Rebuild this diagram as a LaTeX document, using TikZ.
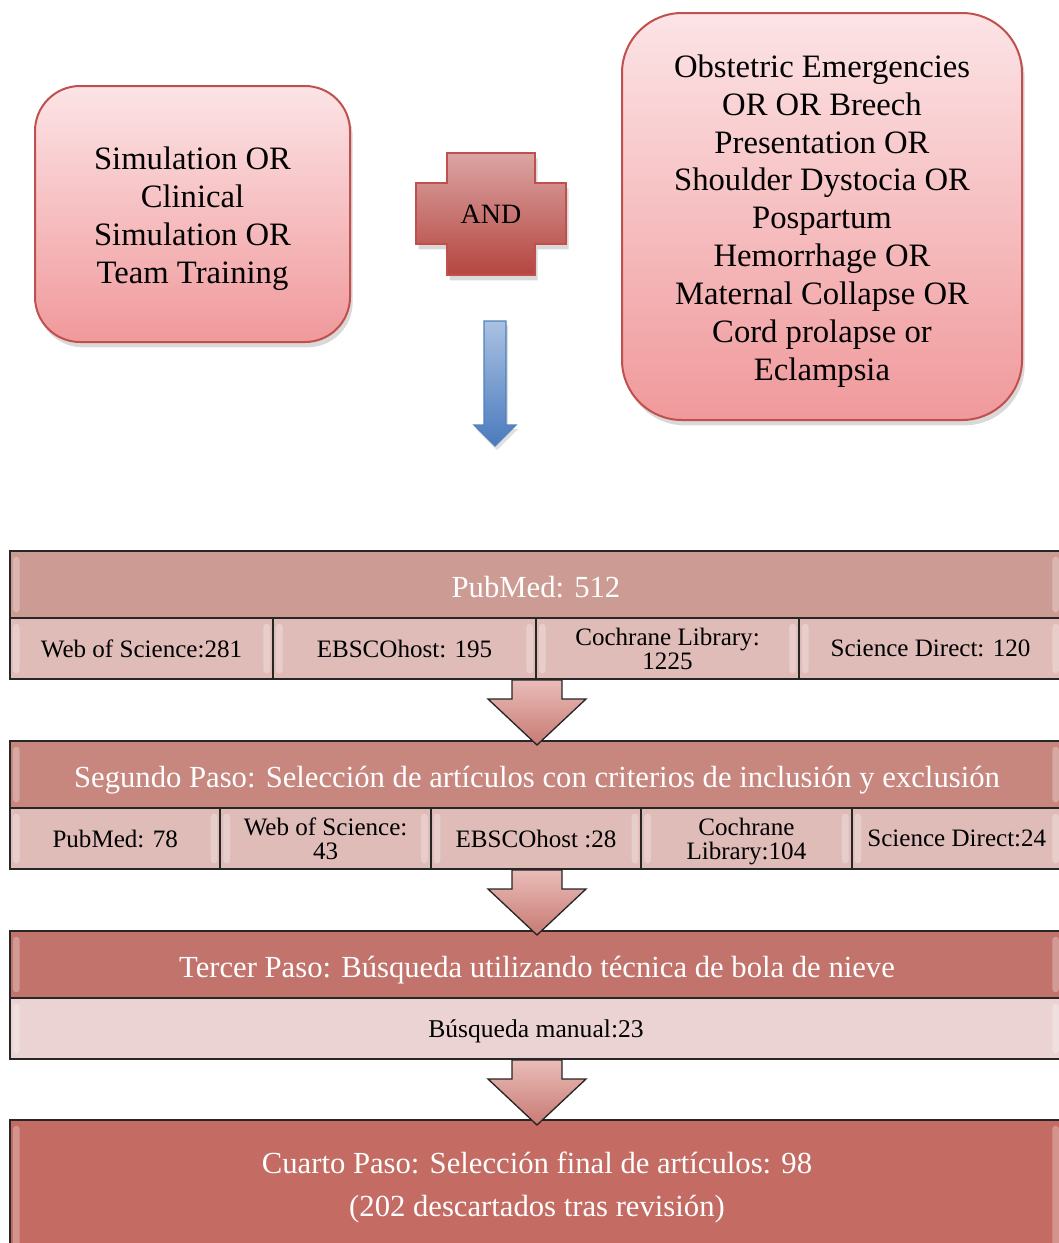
\documentclass[tikz,border=0pt]{standalone}
\usepackage{fontspec}
\setmainfont{Liberation Serif}
\usetikzlibrary{shadows}
\definecolor{boxred}{HTML}{C0504D}
\definecolor{pinktop}{HTML}{FCE4E6}
\definecolor{pinkbot}{HTML}{F0999B}
\definecolor{crosstop}{HTML}{DBA5A4}
\definecolor{crossbot}{HTML}{B5453F}
\definecolor{bluetop}{HTML}{AAC1E2}
\definecolor{bluebot}{HTML}{4A7BBD}
\definecolor{blueedge}{HTML}{4F81BD}
\definecolor{hdrA}{HTML}{CC9B93}
\definecolor{hdrB}{HTML}{C7877F}
\definecolor{hdrC}{HTML}{C2746C}
\definecolor{hdrD}{HTML}{C46B63}
\definecolor{cellA}{HTML}{DFBCB8}
\definecolor{cellC}{HTML}{EBD3D3}
\definecolor{arrtop}{HTML}{E9BCB8}
\definecolor{arrbot}{HTML}{C97A73}
\definecolor{edge}{HTML}{262626}
\begin{document}
\begin{tikzpicture}[x=0.75pt,y=-0.75pt,
  topbox/.style={draw=boxred, line width=1.5pt, top color=pinktop, bottom color=pinkbot,
    inner sep=0pt, drop shadow={shadow xshift=2pt,shadow yshift=-4pt,opacity=0.3}},
  toptext/.style={align=center, font=\fontsize{24.5}{28.4}\selectfont, inner sep=0pt},
  hdr/.style={draw=edge, line width=1.5pt, inner sep=0pt, minimum width=789pt},
  hdrtext/.style={anchor=base, text=white, align=center, font=\fontsize{23}{32.25}\selectfont, inner sep=0pt},
  cell/.style={draw=edge, line width=1.5pt, fill=cellA, text=black, align=center,
    font=\fontsize{18.8}{18}\selectfont, inner sep=0pt, minimum height=45.75pt, text depth=0pt},
  bevel/.style={fill=white, fill opacity=0.28, rounded corners=2.5pt},
  blockarrow/.style={draw=edge, line width=1pt, top color=arrtop, bottom color=arrbot},
]
\useasboundingbox (0,0) rectangle (1058,1243);

% top boxes
\node[topbox, rounded corners=33.75pt, minimum width=236.25pt, minimum height=192pt] (left) at (192.5,214) {};
\node[toptext] (lefttext) at (192.5,218.5)
  {Simulation OR\\Clinical\\Simulation OR\\Team Training};
\node[topbox, rounded corners=45pt, minimum width=300pt, minimum height=305.25pt] (right) at (822,216.5) {};
\node[toptext] (righttext) at (822,221)
  {Obstetric Emergencies\\OR OR Breech\\Presentation OR\\Shoulder Dystocia OR\\Pospartum\\Hemorrhage OR\\Maternal Collapse OR\\Cord prolapse or\\Eclampsia};

% AND cross
\path[draw=boxred, line width=1.2pt, top color=crosstop, bottom color=crossbot,
  drop shadow={shadow xshift=2pt,shadow yshift=-4pt,opacity=0.3}]
  (447,153) -- (535,153) -- (535,183) -- (566,183) -- (566,244) -- (535,244)
  -- (535,275) -- (447,275) -- (447,244) -- (416,244) -- (416,183) -- (447,183) -- cycle;
\node[font=\fontsize{21}{24}\selectfont] (and) at (491,214) {AND};

% blue arrow
\path[draw=blueedge, line width=1pt, top color=bluetop, bottom color=bluebot,
  drop shadow={shadow xshift=1.5pt,shadow yshift=-3pt,opacity=0.25}]
  (484,321) -- (506,321) -- (506,425) -- (516,425) -- (495,446) -- (474,425) -- (484,425) -- cycle;

% table 1
\node[hdr, fill=hdrA, minimum height=50.25pt] (h1) at (536,584.5) {};
\node[hdrtext] (h1t) at (536,597) {PubMed: 512};
\node[cell, minimum width=197.25pt] (c11) at (141.5,648.5) {Web of Science:281};
\node[cell, minimum width=197.25pt] (c12) at (404.5,648.5) {EBSCOhost: 195};
\node[cell, minimum width=197.25pt] (c13) at (667.5,648.5) {Cochrane Library:\\1225};
\node[cell, minimum width=197.25pt] (c14) at (930.5,648.5) {Science Direct: 120};

% table 2
\node[hdr, fill=hdrB, minimum height=50.25pt] (h2) at (536,774.5) {};
\node[hdrtext] (h2t) at (537,787)
  {Segundo Paso: Selección de artículos con criterios de inclusión y exclusión};
\node[cell, minimum width=157.8pt] (c21) at (115.2,838.5) {PubMed: 78};
\node[cell, minimum width=157.8pt] (c22) at (325.6,838.5) {Web of Science:\\43};
\node[cell, minimum width=157.8pt] (c23) at (536,838.5) {EBSCOhost :28};
\node[cell, minimum width=157.8pt] (c24) at (746.4,838.5) {Cochrane\\Library:104};
\node[cell, minimum width=157.8pt] (c25) at (956.8,838.5) {Science Direct:24};

% table 3
\node[hdr, fill=hdrC, minimum height=50.25pt] (h3) at (536,964.5) {};
\node[hdrtext] (h3t) at (537,977)
  {Tercer Paso: Búsqueda utilizando técnica de bola de nieve};
\node[cell, fill=cellC, minimum width=789pt, font=\fontsize{19.2}{18}\selectfont] (c31) at (536,1028.5) {Búsqueda manual:23};

% final box
\node[hdr, fill=hdrD, minimum height=105pt] (h4) at (536,1190) {};
\node[hdrtext, anchor=center] (h4t) at (537,1187.5)
  {Cuarto Paso: Selección final de artículos: 98\\(202 descartados tras revisión)};

% bevel highlights
\foreach \n in {c11,c12,c13,c14,c21,c22,c23,c24,c25,c31,h1,h2,h3,h4} {
  \fill[bevel] ([xshift=3pt,yshift=-5pt]\n.north west) rectangle ([xshift=8pt,yshift=5pt]\n.south west);
  \fill[bevel] ([xshift=-8pt,yshift=-5pt]\n.north east) rectangle ([xshift=-3pt,yshift=5pt]\n.south east);
}

% block arrows between steps
\path[blockarrow] (512,680) -- (562,680) -- (562,699) -- (586,699) -- (537,745) -- (488,699) -- (512,699) -- cycle;
\path[blockarrow] (512,870) -- (562,870) -- (562,889) -- (586,889) -- (537,935) -- (488,889) -- (512,889) -- cycle;
\path[blockarrow] (512,1060) -- (562,1060) -- (562,1079) -- (586,1079) -- (537,1125) -- (488,1079) -- (512,1079) -- cycle;
\end{tikzpicture}
\end{document}
